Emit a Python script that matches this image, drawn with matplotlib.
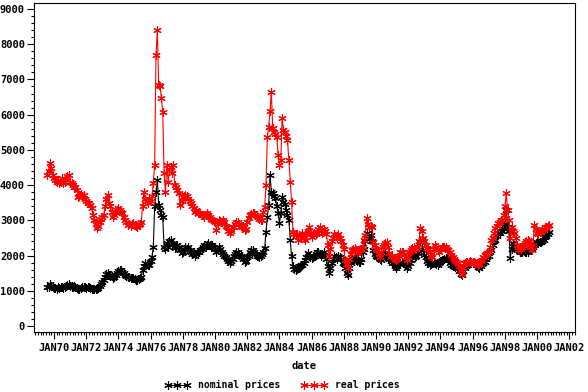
import datetime
import matplotlib
matplotlib.use('Agg')
import matplotlib.pyplot as plt
import matplotlib.dates as mdates
import matplotlib.ticker as mticker
import pandas as pd

# monthly prices, Aug 1969 .. Oct 2000
first_month = '1969-08-01'

nominal_prices = [
    1100, 1120, 1180, 1150, 1100,                                            # 1969
    1080, 1090, 1060, 1100, 1080, 1120, 1100, 1090, 1110, 1130, 1160, 1180,  # 1970
    1150, 1120, 1100, 1130, 1100, 1080, 1060, 1050, 1080, 1100, 1120, 1100,  # 1971
    1080, 1100, 1120, 1080, 1050, 1040, 1060, 1050, 1040, 1080, 1150, 1180,  # 1972
    1250, 1320, 1400, 1480, 1510, 1450, 1460, 1420, 1370, 1400, 1450, 1500,  # 1973
    1550, 1580, 1600, 1520, 1500, 1450, 1410, 1400, 1380, 1350, 1360, 1370,  # 1974
    1340, 1320, 1300, 1330, 1350, 1380, 1600, 1690, 1800, 1750, 1720, 1740,  # 1975
    1850, 1970, 2250, 3400, 3810, 4150, 3440, 3300, 3150, 3100, 2250, 2200,  # 1976
    2360, 2250, 2400, 2450, 2300, 2350, 2220, 2250, 2300, 2250, 2150, 2080,  # 1977
    2100, 2200, 2250, 2200, 2250, 2150, 2100, 2050, 2100, 2000, 2050, 2100,  # 1978
    2100, 2150, 2200, 2250, 2300, 2250, 2300, 2350, 2300, 2250, 2300, 2250,  # 1979
    2200, 2100, 2150, 2250, 2200, 2100, 2050, 2000, 1950, 1900, 1850, 1800,  # 1980
    1850, 1900, 2000, 2050, 2100, 2110, 2050, 2000, 1950, 1900, 1830, 1850,  # 1981
    1950, 2000, 2100, 2150, 2170, 2100, 2050, 2000, 1980, 1970, 2000, 2050,  # 1982
    2100, 2220, 2680, 3100, 3440, 4300, 3800, 3780, 3700, 3640, 3400, 3210,  # 1983
    2930, 3200, 3670, 3530, 3450, 3300, 3150, 3020, 2450, 2000, 1690, 1620,  # 1984
    1600, 1620, 1660, 1700, 1720, 1740, 1800, 1880, 1950, 2080, 2000, 1950,  # 1985
    1940, 1950, 2000, 2050, 2100, 2110, 2050, 2000, 2050, 2100, 2000, 1900,  # 1986
    1700, 1500, 1650, 1800, 1900, 2000, 1950, 1900, 2000, 1970, 1900, 1800,  # 1987
    1750, 1650, 1510, 1450, 1650, 1800, 1880, 1900, 1970, 1900, 1850, 1830,  # 1988
    1830, 1900, 2110, 2200, 2400, 2650, 2550, 2500, 2590, 2400, 2170, 2050,  # 1989
    2000, 1970, 1950, 1900, 1880, 1950, 2050, 2080, 2000, 1940, 1900, 1850,  # 1990
    1800, 1780, 1700, 1660, 1700, 1750, 1800, 1820, 1800, 1780, 1750, 1660,  # 1991
    1700, 1800, 1880, 2000, 2080, 1970, 2000, 2080, 2200, 2390, 2450, 2150,  # 1992
    2020, 1950, 1850, 1800, 1740, 1760, 1800, 1830, 1800, 1750, 1740, 1800,  # 1993
    1850, 1880, 1880, 1900, 1920, 1940, 1900, 1800, 1720, 1690, 1700, 1680,  # 1994
    1680, 1650, 1550, 1480, 1450, 1560, 1660, 1700, 1720, 1780, 1800, 1790,  # 1995
    1790, 1800, 1780, 1720, 1680, 1660, 1700, 1750, 1800, 1830, 1900, 1970,  # 1996
    2000, 2100, 2170, 2300, 2400, 2450, 2550, 2650, 2650, 2700, 2700, 2750,  # 1997
    2900, 3300, 2800, 2700, 1940, 2200, 2360, 2300, 2200, 2170, 2150, 2110,  # 1998
    2110, 2100, 2120, 2110, 2100, 2110, 2150, 2200, 2200, 2250, 2300, 2350,  # 1999
    2390, 2350, 2380, 2390, 2400, 2450, 2530, 2550, 2620, 2680,              # 2000
]

real_prices = [
    4290, 4400, 4630, 4500, 4300,                                            # 1969
    4200, 4150, 4100, 4150, 4050, 4100, 4200, 4050, 4100, 4150, 4250, 4300,  # 1970
    4100, 4050, 4000, 3950, 3950, 3850, 3650, 3700, 3750, 3700, 3720, 3600,  # 1971
    3550, 3500, 3480, 3440, 3350, 3160, 3000, 2900, 2790, 2850, 2950, 3050,  # 1972
    3100, 3150, 3400, 3600, 3720, 3500, 3400, 3250, 3100, 3150, 3250, 3300,  # 1973
    3360, 3300, 3250, 3200, 3100, 3020, 2950, 2870, 2900, 2850, 2900, 2920,  # 1974
    2880, 2850, 2800, 2870, 2900, 2950, 3400, 3800, 3600, 3550, 3500, 3600,  # 1975
    3550, 3700, 4060, 4570, 7690, 8400, 6840, 6800, 6470, 6080, 4340, 3810,  # 1976
    4570, 4090, 4450, 4520, 4340, 4570, 4000, 3950, 3870, 3780, 3440, 3550,  # 1977
    3670, 3700, 3720, 3700, 3600, 3550, 3500, 3400, 3350, 3250, 3300, 3210,  # 1978
    3200, 3200, 3150, 3160, 3100, 3150, 3200, 3150, 3100, 3050, 3000, 2980,  # 1979
    2960, 2730, 2900, 3020, 2980, 2950, 3000, 2950, 2850, 2800, 2700, 2650,  # 1980
    2700, 2820, 2800, 2900, 2950, 2960, 2900, 2850, 2800, 2850, 2730, 2750,  # 1981
    2950, 3070, 3150, 3180, 3210, 3200, 3150, 3120, 3100, 3050, 3000, 3020,  # 1982
    3250, 3380, 4010, 5370, 5650, 6100, 6650, 5620, 5510, 5450, 5370, 4860,  # 1983
    4580, 4720, 5910, 5560, 5510, 5400, 5280, 4720, 4100, 3530, 2680, 2600,  # 1984
    2590, 2600, 2450, 2550, 2500, 2650, 2500, 2450, 2600, 2700, 2820, 2650,  # 1985
    2540, 2600, 2650, 2600, 2650, 2750, 2800, 2700, 2650, 2750, 2700, 2600,  # 1986
    2300, 2000, 2200, 2400, 2500, 2600, 2550, 2500, 2600, 2500, 2400, 2300,  # 1987
    2200, 1880, 1750, 1660, 1900, 2050, 2170, 2200, 2220, 2150, 2080, 2150,  # 1988
    2150, 2200, 2250, 2450, 2590, 3070, 2900, 2820, 2850, 2800, 2390, 2300,  # 1989
    2200, 2170, 2050, 1970, 2100, 2250, 2300, 2350, 2390, 2250, 2080, 2000,  # 1990
    1980, 1940, 1900, 1880, 1900, 2000, 2110, 2100, 2100, 2050, 1950, 1880,  # 1991
    1950, 2100, 2170, 2220, 2250, 2200, 2200, 2250, 2400, 2790, 2700, 2500,  # 1992
    2400, 2310, 2220, 2200, 2100, 2000, 1970, 2200, 2310, 2250, 2170, 2110,  # 1993
    2200, 2250, 2230, 2250, 2250, 2200, 2150, 2100, 2020, 1970, 1900, 1850,  # 1994
    1830, 1780, 1700, 1600, 1480, 1650, 1800, 1830, 1820, 1830, 1850, 1830,  # 1995
    1830, 1820, 1800, 1780, 1720, 1750, 1850, 1880, 1970, 2020, 2050, 2080,  # 1996
    2100, 2250, 2450, 2500, 2650, 2790, 2850, 2930, 2950, 3000, 3020, 3150,  # 1997
    3400, 3770, 3300, 3020, 2500, 2820, 2700, 2650, 2500, 2300, 2170, 2250,  # 1998
    2200, 2250, 2300, 2360, 2400, 2450, 2400, 2250, 2170, 2300, 2870, 2750,  # 1999
    2650, 2620, 2680, 2700, 2730, 2750, 2800, 2820, 2850, 2870,              # 2000
]

dates = pd.date_range(first_month, periods=len(nominal_prices), freq='MS')

mono = 'DejaVu Sans Mono'

fig = plt.figure(figsize=(5.88, 3.92), dpi=100)
ax = fig.add_axes([34 / 588, 60 / 392, 541 / 588, 329 / 392])

star = (6, 2, 0)
ax.plot(dates, nominal_prices, color='black', lw=0.8, marker=star, ms=6,
        mew=0.8, label='nominal prices')
ax.plot(dates, real_prices, color='#ff0000', lw=0.8, marker=star, ms=6,
        mew=0.8, label='real prices')

ax.set_xlim(datetime.datetime(1968, 10, 3), datetime.datetime(2002, 5, 10))
ax.set_ylim(-170, 9170)

ax.yaxis.set_major_locator(mticker.MultipleLocator(1000))
ax.yaxis.set_minor_locator(mticker.MultipleLocator(200))
ax.xaxis.set_major_locator(mdates.YearLocator(2))
ax.xaxis.set_minor_locator(mdates.MonthLocator(bymonth=range(1, 13, 2)))
ax.xaxis.set_major_formatter(
    mticker.FuncFormatter(lambda v, p: mdates.num2date(v).strftime('%b%y').upper()))

ax.tick_params(which='major', direction='out', length=5, width=0.8)
ax.tick_params(which='minor', direction='out', length=2.5, width=0.8)
ax.tick_params(axis='x', which='major', pad=3)
ax.tick_params(axis='y', which='major', pad=1.5)
for lab in ax.get_xticklabels() + ax.get_yticklabels():
    lab.set_family(mono)
    lab.set_weight('bold')
    lab.set_fontsize(7.5)
for s in ax.spines.values():
    s.set_linewidth(0.8)

ax.set_xlabel('date', family=mono, weight='bold', fontsize=7.5, labelpad=6)

fig.legend(loc='lower center', bbox_to_anchor=(282 / 588, -0.018), ncol=2,
           frameon=False, numpoints=3, handlelength=2.6, columnspacing=2.2,
           prop={'family': mono, 'weight': 'bold', 'size': 7})

fig.savefig('out.png', dpi=100)
